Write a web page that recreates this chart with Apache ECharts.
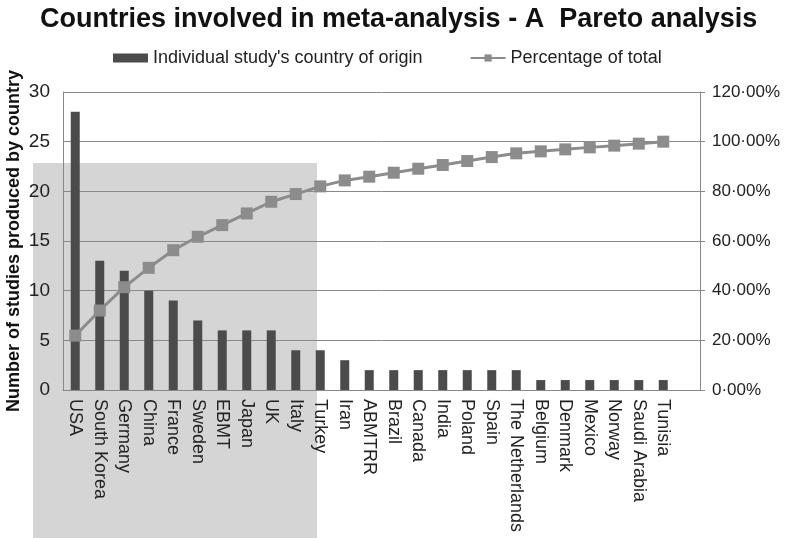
<!DOCTYPE html>
<html>
<head>
<meta charset="utf-8">
<script src="https://cdn.jsdelivr.net/npm/echarts@6/dist/echarts.min.js"></script>
<style>html,body{margin:0;padding:0;background:#fff;}#c{width:787px;height:538px;}</style>
</head>
<body>
<div id="c"></div>
<script>
// last category is the empty spare slot seen at the right end of the reference plot
var countries = ['USA','South Korea','Germany','China','France','Sweden','EBMT','Japan','UK','Italy','Turkey','Iran','ABMTRR','Brazil','Canada','India','Poland','Spain','The Netherlands','Belgium','Denmark','Mexico','Norway','Saudi Arabia','Tunisia',''];
var studies = [28,13,12,10,9,7,6,6,6,4,4,3,2,2,2,2,2,2,2,1,1,1,1,1,1,null];
var cumulativePct = [21.9,32.0,41.4,49.2,56.3,61.7,66.4,71.1,75.8,78.9,82.0,84.4,85.9,87.5,89.1,90.6,92.2,93.8,95.3,96.1,96.9,97.7,98.4,99.2,100,null];
var leftTicks = {min:0, max:30, interval:5};
var rightTicks = {min:0, max:120, interval:20};

var FONT = 'Liberation Sans, Arial, sans-serif';
var chart = echarts.init(document.getElementById('c'));
var option = {
  animation:false,
  textStyle:{fontFamily:FONT},
  title:{
    text:'Countries involved in meta-analysis - A  Pareto analysis',
    left:35, top:1,
    textStyle:{fontFamily:FONT, fontSize:27, fontWeight:'bold', color:'#111'}
  },
  legend:{
    top:44, left:108, itemGap:47, itemWidth:35, itemHeight:9,
    textStyle:{fontFamily:FONT, fontSize:18, color:'#222'},
    data:[
      {name:"Individual study's country of origin", icon:'rect'},
      {name:'Percentage of total'}
    ]
  },
  grid:{left:63, right:87, top:92, bottom:148, outerBoundsMode:'none', containLabel:false},
  graphic:[{
    type:'rect', z:-100, silent:true,
    shape:{x:33, y:163, width:284, height:380},
    style:{fill:'#d5d5d5'}
  }],
  xAxis:{
    type:'category', data:countries,
    axisLine:{lineStyle:{color:'#888', width:1}},
    axisTick:{show:false},
    axisLabel:{rotate:-90, interval:0, margin:9, fontSize:18, color:'#222', fontFamily:FONT}
  },
  yAxis:[
    {
      type:'value', min:leftTicks.min, max:leftTicks.max, interval:leftTicks.interval,
      name:'Number of studies produced by country', nameLocation:'middle', nameGap:40,
      nameMoveOverlap:false,
      nameTextStyle:{fontFamily:FONT, fontSize:18, fontWeight:'bold', color:'#111'},
      axisLine:{show:true, lineStyle:{color:'#888'}},
      axisTick:{show:false},
      axisLabel:{fontSize:19, color:'#222', margin:13, fontFamily:FONT},
      splitLine:{lineStyle:{color:'#8a8a8a', width:1}}
    },
    {
      type:'value', min:rightTicks.min, max:rightTicks.max, interval:rightTicks.interval,
      position:'right',
      axisLine:{show:true, lineStyle:{color:'#888'}},
      axisTick:{show:true, length:5, lineStyle:{color:'#888'}},
      axisLabel:{fontSize:17, color:'#222', margin:12, fontFamily:FONT,
        formatter:function(v){return v.toFixed(2).replace('.','\u00b7')+'%';}},
      splitLine:{show:false}
    }
  ],
  series:[
    {
      name:"Individual study's country of origin", type:'bar', data:studies,
      barWidth:9, itemStyle:{color:'#4b4b4b'}, yAxisIndex:0
    },
    {
      name:'Percentage of total', type:'line', data:cumulativePct, yAxisIndex:1,
      symbol:'rect', symbolSize:12,
      lineStyle:{color:'#8c8c8c', width:3},
      itemStyle:{color:'#8c8c8c'}
    }
  ]
};
chart.setOption(option);
</script>
</body>
</html>
